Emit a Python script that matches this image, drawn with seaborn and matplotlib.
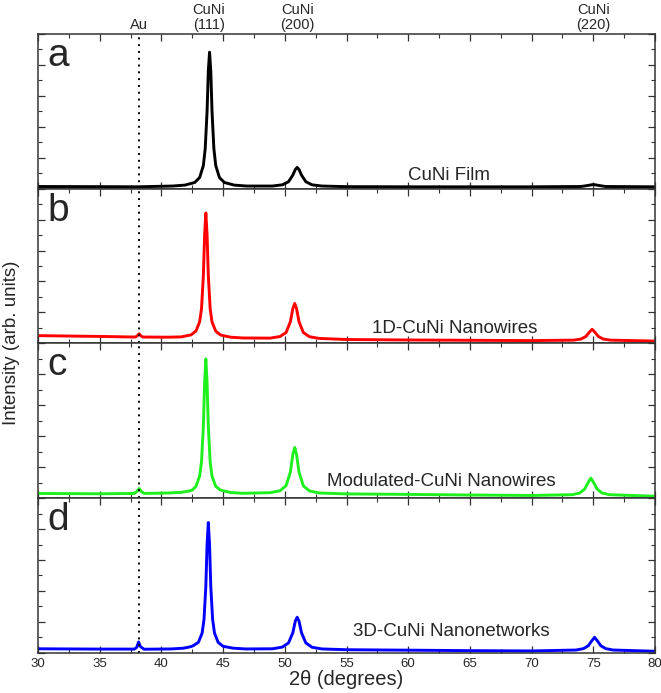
import matplotlib
matplotlib.use("Agg")
import matplotlib.pyplot as plt
from matplotlib.ticker import MultipleLocator
import seaborn as sns

# 2theta / normalised intensity
x_film = [30.0, 35.0, 38.0, 40.9, 41.9, 42.7, 43.1, 43.4, 43.55, 43.7, 43.8, 43.9,
          44.0, 44.1, 44.25, 44.4, 44.7, 45.1, 45.9, 46.9, 49.0, 49.8, 50.3, 50.65,
          50.85, 51.0, 51.15, 51.35, 51.7, 52.2, 53.0, 55.0, 60.0, 65.0, 70.0, 74.0,
          74.5, 75.0, 75.5, 76.0, 80.0]
i_film = [0.014, 0.013, 0.012, 0.017, 0.023, 0.040, 0.072, 0.150, 0.260, 0.500, 0.760, 0.882,
          0.760, 0.500, 0.260, 0.150, 0.072, 0.040, 0.023, 0.017, 0.017, 0.025, 0.045, 0.088,
          0.124, 0.137, 0.124, 0.088, 0.045, 0.025, 0.017, 0.013, 0.012, 0.012, 0.012, 0.014,
          0.020, 0.027, 0.020, 0.014, 0.012]

x_1d = [30.0, 35.0, 37.9, 38.05, 38.2, 38.35, 38.5, 40.6, 41.6, 42.4, 42.8, 43.1, 43.25,
        43.4, 43.5, 43.6, 43.7, 43.8, 43.95, 44.1, 44.4, 44.8, 45.6, 46.6, 48.8, 49.6,
        50.1, 50.45, 50.65, 50.8, 50.95, 51.15, 51.5, 52.0, 52.8, 55.0, 60.0, 65.0, 70.0,
        73.4, 74.0, 74.4, 74.65, 74.9, 75.15, 75.4, 75.8, 76.4, 80.0]
i_1d = [0.050, 0.045, 0.041, 0.050, 0.062, 0.048, 0.041, 0.040, 0.042, 0.055, 0.080, 0.140, 0.225,
        0.440, 0.700, 0.843, 0.700, 0.440, 0.224, 0.139, 0.079, 0.054, 0.040, 0.035, 0.034, 0.044,
        0.070, 0.140, 0.225, 0.258, 0.225, 0.140, 0.070, 0.043, 0.032, 0.025, 0.022, 0.020, 0.018,
        0.021, 0.028, 0.045, 0.070, 0.091, 0.070, 0.045, 0.028, 0.021, 0.015]

x_mod = [30.0, 35.0, 37.8, 38.0, 38.2, 38.4, 38.6, 40.6, 41.6, 42.2, 42.5, 42.8, 43.1,
         43.25, 43.4, 43.5, 43.6, 43.7, 43.8, 43.95, 44.1, 44.4, 44.8, 45.6, 46.6, 48.8,
         49.6, 50.1, 50.45, 50.65, 50.8, 50.95, 51.15, 51.5, 52.0, 52.8, 55.0, 60.0, 65.0,
         70.0, 73.3, 73.9, 74.3, 74.55, 74.8, 75.05, 75.3, 75.7, 76.3, 80.0]
i_mod = [0.030, 0.028, 0.030, 0.042, 0.062, 0.040, 0.030, 0.033, 0.037, 0.045, 0.052, 0.076, 0.143,
         0.235, 0.465, 0.745, 0.900, 0.745, 0.465, 0.233, 0.141, 0.076, 0.051, 0.036, 0.031, 0.035,
         0.047, 0.080, 0.168, 0.282, 0.327, 0.282, 0.168, 0.079, 0.046, 0.033, 0.027, 0.024, 0.020,
         0.017, 0.022, 0.033, 0.059, 0.097, 0.129, 0.097, 0.059, 0.033, 0.022, 0.012]

x_3d = [30.0, 35.0, 37.8, 38.0, 38.15, 38.3, 38.6, 40.8, 41.8, 42.4, 42.6, 43.0, 43.3,
        43.45, 43.6, 43.7, 43.8, 43.9, 44.0, 44.15, 44.3, 44.6, 45.0, 45.8, 46.8, 49.0,
        49.8, 50.3, 50.65, 50.85, 51.0, 51.15, 51.35, 51.7, 52.2, 53.0, 55.0, 60.0, 65.0,
        70.0, 73.6, 74.2, 74.6, 74.85, 75.1, 75.35, 75.6, 76.0, 76.6, 80.0]
i_3d = [0.026, 0.024, 0.024, 0.035, 0.070, 0.040, 0.023, 0.025, 0.030, 0.040, 0.047, 0.068, 0.128,
        0.215, 0.430, 0.700, 0.842, 0.700, 0.430, 0.215, 0.128, 0.067, 0.042, 0.030, 0.025, 0.026,
        0.037, 0.064, 0.130, 0.205, 0.230, 0.205, 0.130, 0.064, 0.036, 0.025, 0.020, 0.017, 0.014,
        0.012, 0.018, 0.027, 0.046, 0.075, 0.100, 0.075, 0.046, 0.027, 0.018, 0.010]

panel_letters = ["a", "b", "c", "d"]
sample_names = ["CuNi Film", "1D-CuNi Nanowires", "Modulated-CuNi Nanowires", "3D-CuNi Nanonetworks"]
name_x = [63.3, 63.8, 62.7, 63.5]
name_y = [0.03, 0.04, 0.05, 0.085]
colors = ["black", "red", "#1ef01e", "blue"]

au_pos = 38.2
peak_pos = [38.2, 43.85, 51.0, 75.0]
peak_labels = ["Au", "CuNi\n(111)", "CuNi\n(200)", "CuNi\n(220)"]

sns.set_style("ticks")
plt.rcParams["font.family"] = ["Liberation Sans", "DejaVu Sans"]

fig, axes = plt.subplots(4, 1, figsize=(6.61, 6.93), dpi=100, sharex=True)
fig.subplots_adjust(left=0.0575, right=0.991, top=0.951, bottom=0.058, hspace=0)

data = [(x_film, i_film), (x_1d, i_1d), (x_mod, i_mod), (x_3d, i_3d)]
for k, ax in enumerate(axes):
    xs, ys = data[k]
    sns.lineplot(x=xs, y=ys, ax=ax, color=colors[k], lw=2.1, sort=False)
    ax.axvline(au_pos, color="black", ls=(0, (1, 2.5)), lw=1.4)
    ax.set_xlim(30, 80)
    ax.set_ylim(0, 1)
    ax.xaxis.set_major_locator(MultipleLocator(5))
    ax.xaxis.set_minor_locator(MultipleLocator(2.5))
    ax.yaxis.set_major_locator(MultipleLocator(0.2))
    ax.yaxis.set_minor_locator(MultipleLocator(0.1))
    ax.tick_params(which="both", direction="in", top=True, right=True,
                   labelleft=False, color="#333333")
    ax.tick_params(which="major", length=5, width=0.9)
    ax.tick_params(which="minor", length=3, width=0.8)
    for s in ax.spines.values():
        s.set_color("#333333")
        s.set_linewidth(1.1)
    ax.text(0.015, 0.975, panel_letters[k], transform=ax.transAxes, fontsize=28,
            ha="left", va="top")
    ax.text(name_x[k], name_y[k], sample_names[k], transform=ax.get_xaxis_transform(),
            fontsize=13.5, ha="center", va="bottom")
    if k < 3:
        ax.tick_params(labelbottom=False)

for p, lab in zip(peak_pos, peak_labels):
    axes[0].text(p, 1.012, lab, transform=axes[0].get_xaxis_transform(),
                 fontsize=10.5, ha="center", va="bottom", linespacing=1.1)

axes[3].tick_params(axis="x", labelsize=9.5, pad=4)
axes[3].set_xlabel("2θ (degrees)", fontsize=14.5, labelpad=0)
fig.text(0.017, 0.505, "Intensity (arb. units)", rotation=90, fontsize=13.5,
         ha="center", va="center")

fig.savefig("out.png", dpi=100)
